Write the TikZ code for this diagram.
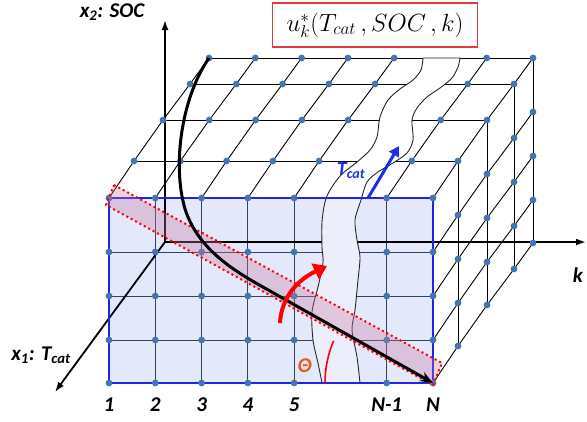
\documentclass[tikz,border=0pt]{standalone}
\usepackage{fontspec}
\usepackage{tikz}
\usetikzlibrary{arrows.meta,calc}
\newfontfamily\lblfont{Carlito}
\definecolor{FaceBlue}{HTML}{E3E8FA}
\definecolor{BandFront}{HTML}{ECEFFB}
\definecolor{FaceBorder}{HTML}{1F24E6}
\definecolor{FaceLine}{HTML}{34415E}
\definecolor{DotBlue}{HTML}{4574AE}
\definecolor{BandPink}{HTML}{C9769F}
\definecolor{ThetaOrange}{HTML}{EA5A1E}
\definecolor{CatBlue}{HTML}{1C2FE6}
\definecolor{BoxRed}{HTML}{E0393E}

\begin{document}
\begin{tikzpicture}[
        x=1pt, y=-1pt,
        gridline/.style={line width=0.9pt, draw=black},
        faceline/.style={line width=0.95pt, draw=FaceLine},
        faceborder/.style={line width=2.2pt, draw=FaceBorder},
        waveline/.style={line width=0.9pt, draw=black!85},
        axis/.style={line width=1.8pt, draw=black, -{Latex[length=10pt,width=7pt]}},
        optpath/.style={line width=3pt, draw=black, -{Stealth[length=13pt,width=10pt]}},
        turnarrow/.style={line width=4pt, draw=red, -{Triangle[length=13pt,width=17pt]}},
        anglearc/.style={line width=1.6pt, draw=red},
        catarrow/.style={line width=3pt, draw=CatBlue, -{Triangle[length=10pt,width=11pt]}},
        redband/.style={fill=BandPink, fill opacity=0.33, draw=red, line width=2pt, dash pattern=on 2pt off 3pt},
        dotc/.style={fill=DotBlue},
        lbl/.style={font=\fontsize{21}{24}\selectfont\lblfont\bfseries\itshape, inner sep=0pt, anchor=base},
        formbox/.style={draw=BoxRed, line width=1.2pt, minimum width=205pt, minimum height=44pt,
            inner sep=2pt, font=\fontsize{25}{30}\selectfont},
        bandpath/.style={insert path={
            plot[smooth] coordinates {(423,58) (421,70) (413,80) (400,89) (388,100) (380,117) (377,137)
                (370,150) (357,162) (341,175) (330,190) (325,202) (322,222) (322,247) (323,263)
                (318,287) (312,312) (313,340) (318,363) (322,383)}
            -- plot[smooth] coordinates {(360,383) (357,357) (352,330) (355,310) (358,280) (360,257)
                (357,240) (355,220) (361,200) (367,182) (378,172) (393,163) (407,153) (413,140)
                (412,120) (417,108) (427,97) (440,88) (452,78) (458,67) (460,58)}
            -- cycle}}
    ]
    \useasboundingbox (0,0) rectangle (587,421);

    % top face and right face
    \foreach \dx/\dy in {25/-37,54/-78,81/-114,100/-140}
        \draw[gridline] (109+\dx,198+\dy) -- (433+\dx,198+\dy);
    \foreach \x in {109,155.3,201.6,247.9,294.1,386.7,433}
        \draw[gridline] (\x,198) -- (\x+25,161) -- (\x+54,120) -- (\x+81,84) -- (\x+100,58);
    \foreach \y in {252,296,340,383}
        \draw[gridline] (433,\y) -- (458,\y-37) -- (487,\y-78) -- (514,\y-114) -- (533,\y-140);
    \foreach \dx/\dy in {25/-37,54/-78,81/-114,100/-140}
        \draw[gridline] (433+\dx,198+\dy) -- (433+\dx,383+\dy);

    % front face
    \fill[FaceBlue] (109,198) rectangle (433,383);
    \foreach \x in {155.3,201.6,247.9,294.1,386.7}
        \draw[faceline] (\x,198) -- (\x,383);
    \foreach \y in {252,296,340}
        \draw[faceline] (109,\y) -- (433,\y);

    % axes
    \coordinate (origin) at (165,242);
    \coordinate (socend) at (165,20);
    \coordinate (kend) at (586,242);
    \coordinate (tcatend) at (55,392);
    \draw[axis] (origin) -- (socend);
    \draw[axis] (origin) -- (kend);
    \draw[axis] (origin) -- (tcatend);

    % T_cat band
    \begin{scope}
        \clip (0,0) rectangle (587,198);
        \fill[white, bandpath];
    \end{scope}
    \begin{scope}
        \clip (109,198) rectangle (433,383);
        \fill[BandFront, bandpath];
    \end{scope}
    \draw[waveline, bandpath];

    \draw[faceborder] (109,198) rectangle (433,383);

    % grid points
    \foreach \x in {109,155.3,201.6,247.9,294.1,386.7,433} {
        \foreach \y in {198,252,296,340,383}
            \fill[dotc] (\x,\y) circle[radius=3.4pt];
        \foreach \dx/\dy in {25/-37,54/-78,81/-114,100/-140}
            \fill[dotc] (\x+\dx,198+\dy) circle[radius=3.4pt];
    }
    \foreach \y in {252,296,340,383}
        \foreach \dx/\dy in {25/-37,54/-78,81/-114,100/-140}
            \fill[dotc] (433+\dx,\y+\dy) circle[radius=3.4pt];

    % diagonal band
    \coordinate (b1) at (114,185);
    \coordinate (b2) at (442,363);
    \coordinate (b3) at (433,385);
    \coordinate (b4) at (106,205);
    \filldraw[redband] (b1) -- (b2) -- (b3) -- (b4) -- cycle;

    % optimal trajectory
    \coordinate (start) at (209,58);
    \coordinate (bend) at (186,212);
    \coordinate (join) at (270,291);
    \coordinate (N) at (433,383);
    \draw[optpath] (start) .. controls (180,100) and (172,170) .. (bend)
        .. controls (200,250) and (232,270) .. (join) -- (N);

    % rotation and angle
    \coordinate (rs) at (280,323);
    \coordinate (re) at (327,266);
    \draw[turnarrow] (rs) .. controls (281,302) and (293,282) .. (re);
    \coordinate (thstart) at (325,383);
    \draw[anglearc] (thstart) arc[start angle=180, end angle=203, radius=108];
    \coordinate (cs) at (368,198);
    \coordinate (ce) at (399,146);
    \draw[catarrow] (cs) -- (ce);

    % labels
    \node[lbl] (socl) at (112,17) {x\textsubscript{2}: SOC};
    \node[lbl] (tcatl) at (41,360) {x\textsubscript{1}: T\textsubscript{cat}};
    \node[lbl] (kl) at (578,282) {k};
    \foreach \x/\t/\n in {109/1/c1,155.3/2/c2,201.6/3/c3,247.9/4/c4,294.1/5/c5,386.7/N-1/c6,433/N/c7}
        \node[lbl] (\n) at (\x,411) {\t};
    \node[lbl, text=CatBlue, font=\fontsize{20}{24}\selectfont\lblfont\bfseries\itshape] (catl) at (351,175) {T\textsubscript{cat}};
    \node[lbl, text=ThetaOrange] (thl) at (305,372) {Θ};
    \node[formbox] (ustar) at (375,25) {$u^{*}_{k}(T_{cat}\,,SOC\,,k)$};
\end{tikzpicture}
\end{document}
